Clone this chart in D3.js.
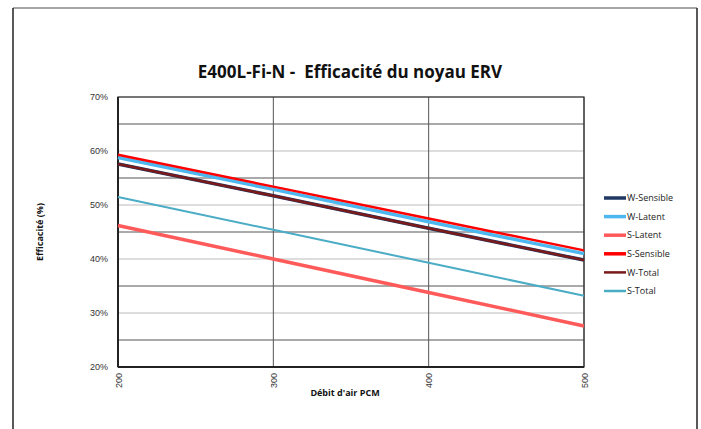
<!DOCTYPE html>
<html lang="fr">
<head>
<meta charset="UTF-8">
<script src="https://d3js.org/d3.v7.min.js"></script>
<style>
  body { margin: 0; background: #fff; }
  svg { display: block; font-family: "Open Sans", "DejaVu Sans", sans-serif; }
</style>
</head>
<body>
<svg width="701" height="429"></svg>
<script>
// débit d'air (PCM)
const flows = [200, 300, 400, 500];

// efficacité (%) par série
const wSensible = [57.6, 51.7, 45.7, 39.8];
const wLatent   = [58.8, 52.9, 46.9, 41.0];
const sLatent   = [46.2, 40.0, 33.8, 27.6];
const sSensible = [59.3, 53.4, 47.5, 41.6];
const wTotal    = [57.6, 51.7, 45.7, 39.8];
const sTotal    = [51.5, 45.4, 39.3, 33.2];

const seriesNames = ["W-Sensible", "W-Latent", "S-Latent", "S-Sensible", "W-Total", "S-Total"];
const seriesValues = [wSensible, wLatent, sLatent, sSensible, wTotal, sTotal];
const seriesColors = ["#1f3864", "#4db8f0", "#ff5a5a", "#ff0000", "#7a1a1a", "#4bacc6"];
const seriesWidths = [3.5, 3.5, 3.5, 2.5, 2.5, 2];

const yTicks = [20, 30, 40, 50, 60, 70];
const yMinor = [25, 35, 45, 55, 65];

const svg = d3.select("svg");
const margin = {left: 118, right: 117, top: 97, bottom: 62};
const W = 701, H = 429;

// cadre extérieur
svg.append("line").attr("x1", 13).attr("x2", 697).attr("y1", 8).attr("y2", 8)
  .attr("stroke", "#888").attr("stroke-width", 1.5);
svg.append("line").attr("x1", 13).attr("x2", 13).attr("y1", 8).attr("y2", H)
  .attr("stroke", "#222").attr("stroke-width", 1.5);
svg.append("line").attr("x1", 697).attr("x2", 697).attr("y1", 8).attr("y2", H)
  .attr("stroke", "#222").attr("stroke-width", 1.5);

const x = d3.scaleLinear().domain([200, 500]).range([margin.left, W - margin.right]);
const y = d3.scaleLinear().domain([20, 70]).range([H - margin.bottom, margin.top]);

// grilles
svg.append("g").selectAll("line").data(yTicks).join("line")
  .attr("x1", x(200)).attr("x2", x(500))
  .attr("y1", d => y(d)).attr("y2", d => y(d))
  .attr("stroke", "#bbb").attr("stroke-width", 1);
svg.append("g").selectAll("line").data(yMinor).join("line")
  .attr("x1", x(200)).attr("x2", x(500))
  .attr("y1", d => y(d)).attr("y2", d => y(d))
  .attr("stroke", "#555").attr("stroke-width", 1);
svg.append("g").selectAll("line").data(flows).join("line")
  .attr("x1", d => x(d)).attr("x2", d => x(d))
  .attr("y1", y(20)).attr("y2", y(70))
  .attr("stroke", "#555").attr("stroke-width", 1);

// cadre du graphique
svg.append("rect")
  .attr("x", x(200)).attr("y", y(70))
  .attr("width", x(500) - x(200)).attr("height", y(20) - y(70))
  .attr("fill", "none").attr("stroke", "#333").attr("stroke-width", 1.2);
svg.append("line").attr("x1", x(200)).attr("x2", x(200)).attr("y1", y(70)).attr("y2", y(20))
  .attr("stroke", "#222").attr("stroke-width", 2);
svg.append("line").attr("x1", x(200)).attr("x2", x(500)).attr("y1", y(20)).attr("y2", y(20))
  .attr("stroke", "#222").attr("stroke-width", 2);

// séries (W-Total par-dessus W-Sensible)
const line = d3.line().x((d, i) => x(flows[i])).y(d => y(d));
const order = [5, 2, 0, 4, 1, 3];
order.forEach(i => {
  svg.append("path")
    .datum(seriesValues[i])
    .attr("d", line)
    .attr("fill", "none")
    .attr("stroke", seriesColors[i])
    .attr("stroke-width", seriesWidths[i]);
});

// axes
const yAxis = svg.append("g").attr("transform", `translate(${x(200)},0)`)
  .call(d3.axisLeft(y).tickValues(yTicks).tickSize(0).tickPadding(10).tickFormat(d => d + "%"));
yAxis.select(".domain").remove();
yAxis.selectAll("text").attr("font-size", 9).attr("fill", "#333");

const xAxis = svg.append("g").attr("transform", `translate(0,${y(20)})`)
  .call(d3.axisBottom(x).tickValues(flows).tickSize(0).tickFormat(d3.format("d")));
xAxis.select(".domain").remove();
xAxis.selectAll("text")
  .attr("font-size", 9).attr("fill", "#333")
  .attr("transform", "rotate(-90)")
  .attr("x", -6).attr("y", 0).attr("dy", "0.35em")
  .attr("text-anchor", "end");

// titres
svg.append("text").attr("x", 350).attr("y", 78).attr("text-anchor", "middle")
  .attr("font-size", 17).attr("font-weight", "bold").attr("fill", "#111")
  .style("white-space", "pre")
  .text("E400L-Fi-N -  Efficacité du noyau ERV");
svg.append("text").attr("x", 345).attr("y", 396).attr("text-anchor", "middle")
  .attr("font-size", 9).attr("font-weight", "bold").attr("fill", "#111")
  .text("Débit d'air PCM");
svg.append("text").attr("transform", "translate(43,232) rotate(-90)").attr("text-anchor", "middle")
  .attr("font-size", 9).attr("font-weight", "bold").attr("fill", "#111")
  .text("Efficacité (%)");

// légende
const legend = svg.append("g").selectAll("g").data(seriesNames).join("g")
  .attr("transform", (d, i) => `translate(604,${198 + i * 18.6})`);
legend.append("line").attr("x1", 0).attr("x2", 22)
  .attr("stroke", (d, i) => seriesColors[i])
  .attr("stroke-width", (d, i) => i < 4 ? 3.5 : 2.5);
legend.append("text").attr("x", 23).attr("dy", "0.35em")
  .attr("font-size", 9).attr("fill", "#222").text(d => d);
</script>
</body>
</html>
